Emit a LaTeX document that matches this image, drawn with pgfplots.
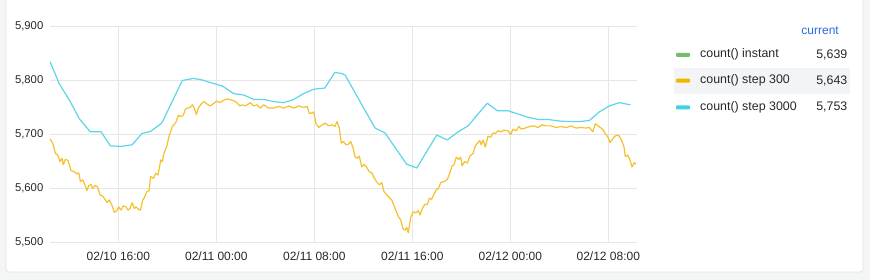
\documentclass[border=0pt]{standalone}
\usepackage{pgfplots}
\usepackage{pgfplotstable}
\pgfplotsset{compat=1.18}
\usepackage{fontspec}
\setmainfont{Liberation Sans}
\definecolor{bgout}{HTML}{F4F5F5}
\definecolor{panelborder}{HTML}{E2E4E6}
\definecolor{gridc}{HTML}{E6E6E6}
\definecolor{txt}{HTML}{24292E}
\definecolor{cyanline}{HTML}{5CD6E8}
\definecolor{yellowline}{HTML}{F5C12E}
\definecolor{greensw}{HTML}{73BF69}
\definecolor{yellowsw}{HTML}{F2B600}
\definecolor{cyansw}{HTML}{3DD3E3}
\definecolor{bluecur}{HTML}{2A6CE0}
\definecolor{rowhl}{HTML}{F3F4F5}

% x: hours since 02/10 00:00
\pgfplotstableread{
x y
10.42 5834
11.18 5793
12.00 5763
12.82 5728
13.71 5704
14.59 5704
15.35 5678
16.22 5677
17.12 5680
17.93 5701
18.64 5705
19.54 5720
21.22 5799
22.12 5803
22.86 5800
23.54 5795
24.49 5789
25.39 5775
26.26 5772
27.05 5764
27.87 5764
28.69 5760
29.50 5758
30.32 5764
31.13 5775
31.95 5783
32.85 5785
33.67 5814
34.26 5812
34.51 5809
36.96 5711
37.77 5702
39.54 5644
40.36 5637
41.99 5698
42.86 5689
43.73 5704
44.55 5715
45.36 5737
46.12 5757
46.94 5743
47.81 5743
48.63 5737
49.44 5731
50.26 5727
51.05 5727
52.00 5724
52.82 5723
53.63 5723
54.45 5725
55.27 5741
56.08 5752
56.90 5758
57.80 5754
}\stepthreethousand

\pgfplotstableread{
x y
10.42 5691
10.64 5683
10.86 5664
11.05 5661
11.24 5649
11.40 5655
11.51 5643
11.67 5653
11.89 5651
12.14 5632
12.41 5630
12.60 5626
12.77 5628
12.90 5612
13.09 5615
13.22 5609
13.42 5595
13.58 5604
13.77 5607
13.91 5599
14.12 5605
14.32 5601
14.51 5587
14.73 5585
14.94 5578
15.08 5573
15.27 5578
15.46 5569
15.67 5555
15.87 5558
16.03 5565
16.22 5559
16.41 5567
16.63 5565
16.79 5559
16.96 5562
17.12 5573
17.31 5562
17.44 5565
17.67 5560
17.80 5559
17.99 5578
18.10 5581
18.32 5593
18.51 5595
18.64 5621
18.86 5618
19.05 5627
19.24 5624
19.46 5652
19.59 5649
19.73 5665
19.95 5677
20.14 5696
20.41 5714
20.69 5721
20.90 5735
21.09 5732
21.31 5735
21.47 5746
21.63 5748
21.85 5749
22.04 5754
22.18 5749
22.37 5736
22.53 5748
22.78 5756
23.00 5760
23.27 5755
23.49 5752
23.81 5757
24.03 5761
24.30 5758
24.63 5763
24.90 5765
25.22 5763
25.58 5760
25.93 5752
26.10 5754
26.37 5752
26.78 5758
27.05 5752
27.32 5754
27.59 5748
27.87 5754
28.28 5748
28.69 5748
29.09 5751
29.50 5748
29.91 5752
30.32 5748
30.73 5752
31.13 5749
31.43 5751
31.59 5738
31.81 5739
31.95 5741
32.14 5719
32.36 5712
32.63 5717
32.90 5720
33.18 5715
33.45 5717
33.67 5714
33.85 5723
34.04 5711
34.20 5683
34.37 5686
34.59 5680
34.78 5681
34.97 5686
35.14 5676
35.32 5658
35.51 5655
35.67 5659
35.87 5639
36.06 5644
36.28 5638
36.49 5630
36.69 5628
36.90 5618
37.09 5611
37.31 5606
37.50 5610
37.69 5593
38.04 5584
38.32 5578
38.59 5562
38.86 5547
39.05 5541
39.22 5525
39.40 5522
39.54 5527
39.67 5517
39.87 5546
40.08 5556
40.30 5554
40.49 5558
40.63 5550
40.85 5564
41.04 5570
41.22 5569
41.39 5581
41.58 5579
41.77 5589
41.99 5598
42.10 5598
42.32 5610
42.59 5612
42.86 5616
43.05 5627
43.24 5641
43.40 5643
43.59 5657
43.79 5653
43.95 5657
44.06 5641
44.28 5649
44.49 5646
44.69 5659
44.96 5664
45.14 5678
45.31 5683
45.50 5688
45.63 5680
45.77 5689
45.96 5676
46.18 5696
46.40 5694
46.59 5702
46.78 5701
47.00 5706
47.22 5704
47.49 5707
47.81 5706
48.03 5699
48.22 5709
48.49 5706
48.69 5714
48.90 5709
49.22 5711
49.58 5714
49.94 5715
50.26 5712
50.59 5717
50.91 5715
51.32 5715
51.73 5712
52.14 5714
52.55 5712
52.96 5715
53.36 5711
53.77 5712
54.18 5711
54.45 5712
54.73 5704
54.94 5719
55.22 5714
55.40 5711
55.59 5707
55.76 5700
55.95 5695
56.14 5684
56.30 5689
56.49 5695
56.69 5698
56.90 5696
57.12 5686
57.28 5676
57.39 5658
57.58 5661
57.77 5652
57.93 5639
58.12 5647
58.26 5644
}\stepthreehundred

\begin{document}
\begin{tikzpicture}
\useasboundingbox (0,0) rectangle (870pt,280pt);
\fill[bgout] (0,0) rectangle (870pt,280pt);
\begin{scope}
\clip (0,0) rectangle (870pt,280pt);
\draw[panelborder, fill=white, rounded corners=3pt, line width=0.8pt] (6pt,8pt) rectangle (863pt,300pt);
\end{scope}
\begin{axis}[
  at={(50pt,38pt)}, anchor=south west, scale only axis,
  width=587pt, height=216pt,
  xmin=10.42, xmax=58.34, ymin=5500, ymax=5900,
  axis line style={draw=none},
  major tick style={draw=none},
  grid=major,
  major grid style={gridc, line width=0.9pt},
  xtick={16,24,32,40,48,56},
  xticklabels={02/10 16:00,02/11 00:00,02/11 08:00,02/11 16:00,02/12 00:00,02/12 08:00},
  ytick={5500,5600,5700,5800,5900},
  yticklabels={{5,500},{5,600},{5,700},{5,800},{5,900}},
  tick label style={text=txt, inner sep=0pt},
  xticklabel style={font=\fontsize{12}{14}\selectfont, anchor=center, yshift=-14pt},
  yticklabel style={font=\fontsize{11.3}{13}\selectfont, anchor=east, xshift=-6.5pt},
]
\addplot[cyanline, line width=1.2pt, line join=round] table[x=x,y=y] {\stepthreethousand};
\addplot[yellowline, line width=1.2pt, line join=round] table[x=x,y=y] {\stepthreehundred};
\end{axis}
% legend
\node[anchor=east, text=bluecur, font=\fontsize{12}{14}\selectfont, inner sep=0pt] at (839pt,249pt) {current};
\fill[rowhl] (674pt,186pt) rectangle (850pt,212pt);
\fill[greensw, rounded corners=1pt] (676pt,223.2pt) rectangle (690pt,227.2pt);
\fill[yellowsw, rounded corners=1pt] (676pt,197.3pt) rectangle (690pt,201.3pt);
\fill[cyansw, rounded corners=1pt] (676pt,170.7pt) rectangle (690pt,174.7pt);
\begin{scope}[every node/.style={inner sep=0pt, text=txt, font=\fontsize{12.4}{14}\selectfont}]
\node[anchor=west] at (700pt,225.5pt) {count() instant};
\node[anchor=west] at (700pt,199.3pt) {count() step 300};
\node[anchor=west] at (700pt,172.7pt) {count() step 3000};
\node[anchor=east] at (847.5pt,225.5pt) {5,639};
\node[anchor=east] at (847.5pt,199.3pt) {5,643};
\node[anchor=east] at (847.5pt,172.7pt) {5,753};
\end{scope}
\end{tikzpicture}
\end{document}
